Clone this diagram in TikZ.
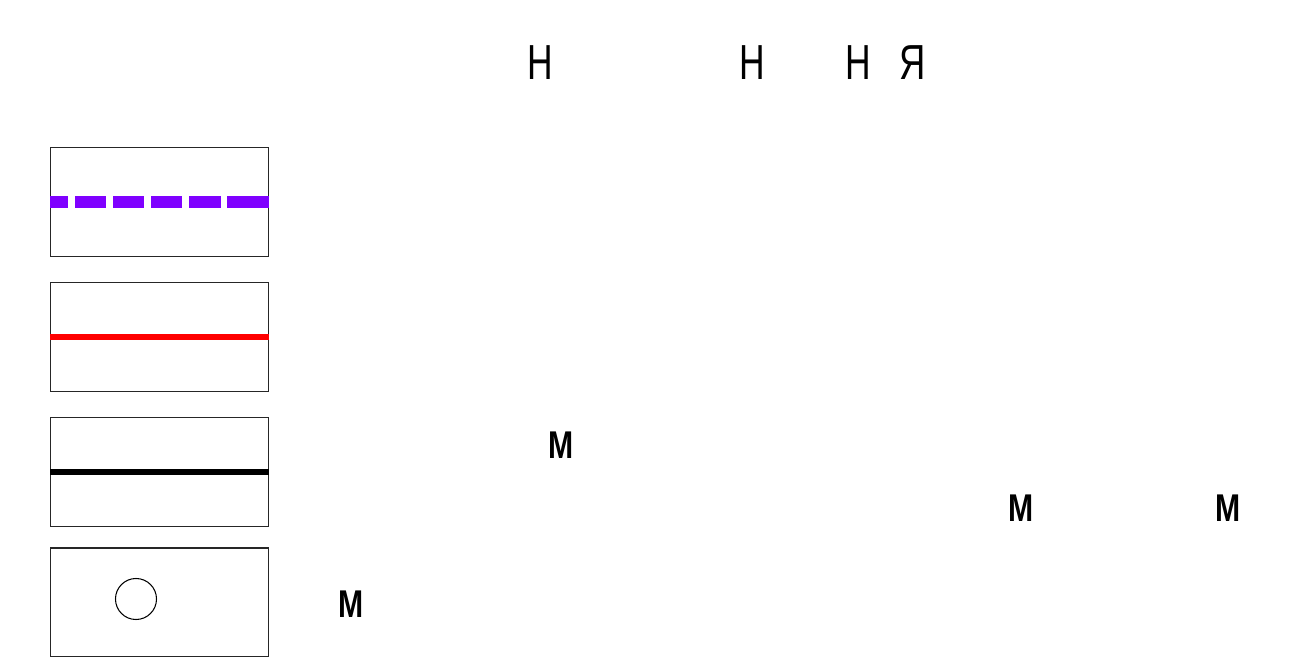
\documentclass[tikz,border=0pt]{standalone}
\usepackage{fontspec}
\setmainfont{Liberation Sans}
\definecolor{legend violet}{HTML}{7F00FF}

\tikzstyle{legend box}=[draw=black!85, line width=0.3pt, minimum width=2.17cm, minimum height=1.08cm, inner sep=0pt]
\tikzstyle{head letter}=[inner sep=0pt, font=\fontsize{14}{14}\selectfont]
\tikzstyle{mark letter}=[inner sep=0pt, font=\fontsize{11}{11}\selectfont\bfseries]

\begin{document}
\begin{tikzpicture}[x=0.01cm, y=-0.01cm]
				\useasboundingbox (0,0) rectangle (1303,670);

				% Legend boxes
				\node[legend box] (box1) at (159.5,202) {};
				\node[legend box] (box2) at (159.5,337) {};
				\node[legend box] (box3) at (159.5,472) {};
				\node[legend box] (box4) at (159.5,602) {};

				% Legend samples
				\coordinate (lastdash) at (227,202);
				\draw[legend violet, line width=0.12cm, dash pattern=on 0.31cm off 0.07cm, dash phase=0.13cm] (box1.west) -- (lastdash);
				\draw[legend violet, line width=0.12cm] (lastdash) -- (box1.east);
				\draw[red, line width=0.06cm] (box2.west) -- (box2.east);
				\draw[black, line width=0.06cm] (box3.west) -- (box3.east);
				\node[circle, draw=black, line width=0.3pt, minimum size=0.41cm, inner sep=0pt] (ring) at (136,599) {};

				% Heading letters
				\node[head letter] (h1) at (540,63) {\scalebox{0.72}[1]{Н}};
				\node[head letter] (h2) at (752,63) {\scalebox{0.72}[1]{Н}};
				\node[head letter] (h3) at (858,63) {\scalebox{0.72}[1]{Н}};
				\node[head letter] (ya) at (913,63) {\scalebox{0.74}[1]{Я}};

				% Marks
				\node[mark letter] (m1) at (561,445) {\scalebox{0.78}[1]{М}};
				\node[mark letter] (m2) at (1021,508) {\scalebox{0.78}[1]{М}};
				\node[mark letter] (m3) at (1228,508) {\scalebox{0.78}[1]{М}};
				\node[mark letter] (m4) at (351,604) {\scalebox{0.78}[1]{М}};
			\end{tikzpicture}
\end{document}
